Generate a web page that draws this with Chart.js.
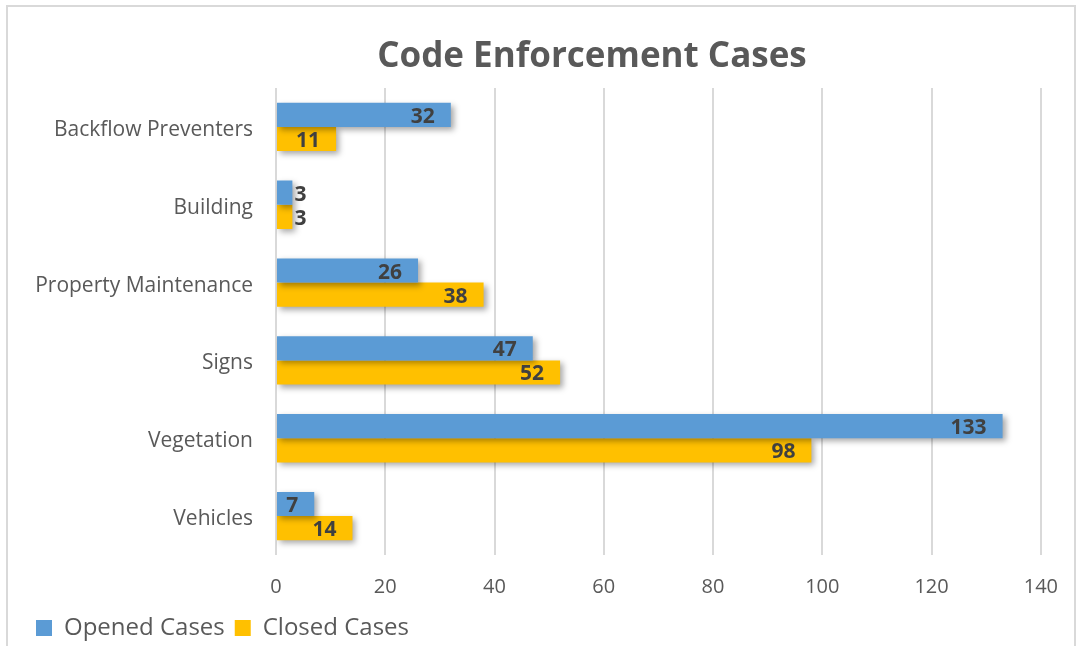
<!DOCTYPE html>
<html>
<head>
<meta charset="utf-8">
<script src="https://cdn.jsdelivr.net/npm/chart.js@4/dist/chart.umd.min.js"></script>
<style>
  html, body { margin: 0; padding: 0; background: #fff; }
  #wrap { position: relative; width: 1078px; height: 646px; }
</style>
</head>
<body>
<div id="wrap"><canvas id="casesChart"></canvas></div>
<script>
const categories = ['Backflow Preventers', 'Building', 'Property Maintenance', 'Signs', 'Vegetation', 'Vehicles'];
const openedCases = [32, 3, 26, 47, 133, 7];
const closedCases = [11, 3, 38, 52, 98, 14];
const xTicks = [0, 20, 40, 60, 80, 100, 120, 140];
const chartTitle = 'Code Enforcement Cases';

const FONT = "'Open Sans', sans-serif";

// light frame round the chart and the title, which sits a bit right of centre
const framePlugin = {
    id: 'frame',
    beforeDraw(chart) {
        const c = chart.ctx;
        c.save();
        c.strokeStyle = '#d9d9d9';
        c.lineWidth = 2;
        c.strokeRect(7, 6, 1068, 700);
        c.font = 'bold 35px ' + FONT;
        c.fillStyle = '#595959';
        c.textAlign = 'center';
        c.textBaseline = 'middle';
        c.fillText(chartTitle, 592, 57);
        c.restore();
    }
};

// soft drop shadow under the bars
const shadowPlugin = {
    id: 'barShadow',
    beforeDatasetsDraw(chart) {
        const c = chart.ctx;
        c.save();
        c.shadowColor = 'rgba(0,0,0,0.35)';
        c.shadowBlur = 6;
        c.shadowOffsetX = 3;
        c.shadowOffsetY = 3;
    },
    afterDatasetsDraw(chart) {
        chart.ctx.restore();
    }
};

// value labels at the inside end of each bar
const labelPlugin = {
    id: 'barLabels',
    afterDatasetsDraw(chart) {
        const c = chart.ctx;
        c.save();
        c.font = 'bold 21px ' + FONT;
        c.fillStyle = '#404040';
        c.textBaseline = 'middle';
        chart.data.datasets.forEach((ds, i) => {
            chart.getDatasetMeta(i).data.forEach((bar, j) => {
                const txt = String(ds.data[j]);
                const w = c.measureText(txt).width;
                let x = bar.x - 16;
                if (x - w < bar.base + 2) {
                    c.textAlign = 'left';
                    x = bar.x + 2;
                } else {
                    c.textAlign = 'right';
                }
                c.fillText(txt, x, bar.y + 2);
            });
        });
        c.restore();
    }
};

new Chart(document.getElementById('casesChart'), {
    type: 'bar',
    data: {
        labels: categories,
        datasets: [
            {
                label: 'Opened Cases',
                data: openedCases,
                backgroundColor: '#5b9bd5',
                categoryPercentage: 0.62,
                barPercentage: 1.0
            },
            {
                label: 'Closed Cases',
                data: closedCases,
                backgroundColor: '#ffc000',
                categoryPercentage: 0.62,
                barPercentage: 1.0
            }
        ]
    },
    options: {
        indexAxis: 'y',
        responsive: true,
        maintainAspectRatio: false,
        animation: false,
        layout: { padding: { left: 26, right: 36, top: 88, bottom: -4 } },
        scales: {
            x: {
                min: 0,
                max: 140,
                afterBuildTicks: (scale) => { scale.ticks = xTicks.map(v => ({ value: v })); },
                afterFit: (scale) => { scale.height = 51; },
                grid: { color: '#d9d9d9', lineWidth: 2, drawTicks: false },
                border: { display: false },
                ticks: { color: '#595959', font: { family: FONT, size: 20 }, padding: 20 }
            },
            y: {
                afterFit: (scale) => { scale.width = 250; },
                grid: { display: false },
                border: { display: false },
                ticks: { color: '#595959', font: { family: FONT, size: 21 }, padding: 15, labelOffset: 3 }
            }
        },
        plugins: {
            title: { display: false },
            legend: {
                position: 'bottom',
                align: 'start',
                labels: {
                    color: '#595959',
                    font: { family: FONT, size: 24 },
                    boxWidth: 16,
                    boxHeight: 16,
                    padding: 10
                }
            },
            tooltip: { enabled: false }
        }
    },
    plugins: [framePlugin, shadowPlugin, labelPlugin]
});
</script>
</body>
</html>
